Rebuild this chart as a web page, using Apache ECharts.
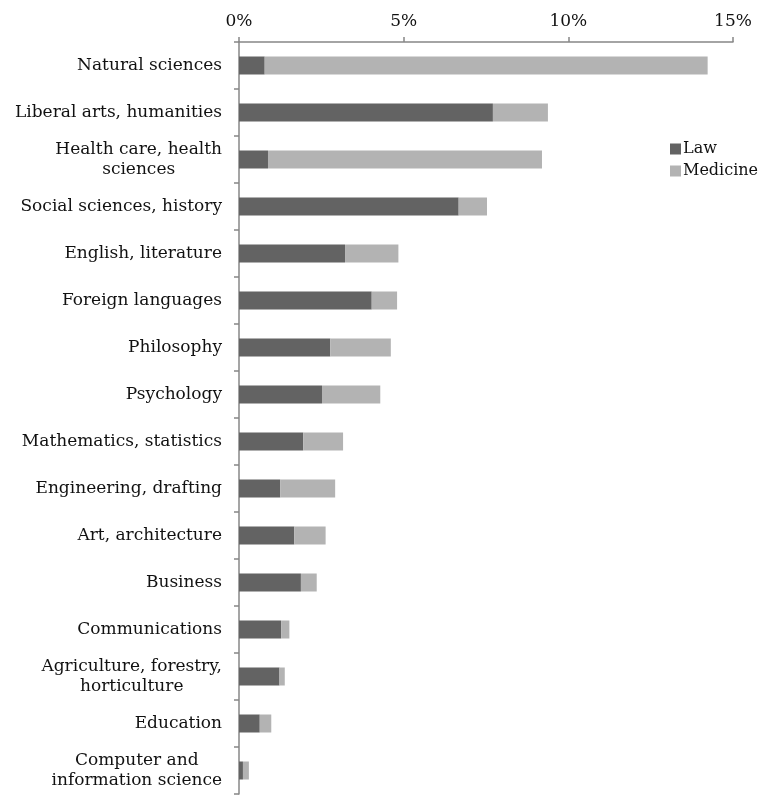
<!DOCTYPE html>
<html>
<head>
<meta charset="utf-8">
<script src="https://cdn.jsdelivr.net/npm/echarts@6/dist/echarts.min.js"></script>
<style>html,body{margin:0;padding:0;background:#fff;}#c{width:763px;height:795px;}</style>
</head>
<body>
<div id="c"></div>
<script>
const categories = [
  "Natural sciences",
  "Liberal arts, humanities",
  "Health care, health\nsciences",
  "Social sciences, history",
  "English, literature",
  "Foreign languages",
  "Philosophy",
  "Psychology",
  "Mathematics, statistics",
  "Engineering, drafting",
  "Art, architecture",
  "Business",
  "Communications",
  "Agriculture, forestry,\nhorticulture",
  "Education",
  "Computer and\ninformation science"
];
const law      = [0.78, 7.71, 0.88, 6.67, 3.22, 4.03, 2.77, 2.52, 1.95, 1.25, 1.68, 1.88, 1.28, 1.23, 0.63, 0.12];
const medicine = [13.45, 1.67, 8.32, 0.86, 1.62, 0.77, 1.84, 1.77, 1.21, 1.67, 0.95, 0.48, 0.25, 0.16, 0.35, 0.18];
const xTicks = [0, 5, 10, 15];

const FONT = "'DejaVu Serif', serif";
const chart = echarts.init(document.getElementById('c'), null, {renderer: 'canvas'});
chart.setOption({
  animation: false,
  backgroundColor: '#fff',
  legend: {
    orient: 'vertical',
    left: 665,
    top: 136,
    itemWidth: 11,
    itemHeight: 11,
    itemGap: 6,
    icon: 'rect',
    textStyle: {fontFamily: FONT, fontSize: 16, lineHeight: 16, color: '#111', padding: [0, 0, 0, -3]},
    data: ['Law', 'Medicine']
  },
  grid: {left: 239, top: 42, right: 30, bottom: 1, containLabel: false},
  xAxis: {
    type: 'value',
    position: 'top',
    min: xTicks[0],
    max: xTicks[xTicks.length - 1],
    interval: 5,
    axisLine: {show: true, lineStyle: {color: '#878787', width: 1.5}},
    axisTick: {show: true, length: 5, lineStyle: {color: '#878787', width: 1.5}},
    splitLine: {show: false},
    axisLabel: {formatter: '{value}%', fontFamily: FONT, fontSize: 17, color: '#111', margin: 12}
  },
  yAxis: {
    type: 'category',
    inverse: true,
    data: categories,
    axisLine: {show: true, lineStyle: {color: '#878787', width: 1.5}},
    axisTick: {show: true, length: 5, lineStyle: {color: '#878787', width: 1.5}},
    axisLabel: {
      fontFamily: FONT, fontSize: 17, color: '#111', margin: 17, lineHeight: 20,
      formatter: function (v) {
        return v.split('\n').map(function (s) { return '{c|' + s + '}'; }).join('\n');
      },
      rich: {c: {align: 'center', fontFamily: FONT, fontSize: 17, color: '#111', lineHeight: 20}}
    }
  },
  series: [
    {name: 'Law', type: 'bar', stack: 'total', data: law, barWidth: 18,
     itemStyle: {color: '#636363'}},
    {name: 'Medicine', type: 'bar', stack: 'total', data: medicine, barWidth: 18,
     itemStyle: {color: '#b3b3b3'}}
  ]
});
</script>
</body>
</html>
